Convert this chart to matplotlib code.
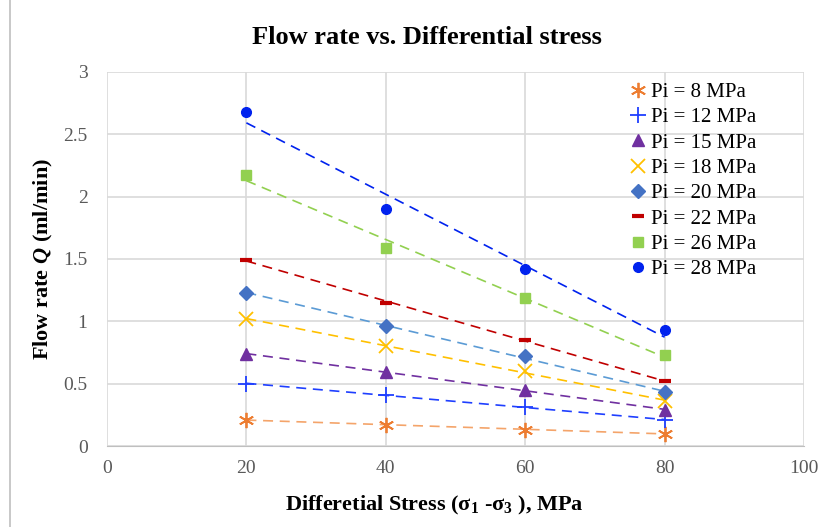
import numpy as np
import matplotlib
matplotlib.use('Agg')
import matplotlib.pyplot as plt
from matplotlib.patches import Rectangle

plt.rcParams['font.family'] = ['Liberation Serif', 'DejaVu Serif']
plt.rcParams['mathtext.fontset'] = 'custom'
plt.rcParams['mathtext.rm'] = 'Liberation Serif'
plt.rcParams['mathtext.it'] = 'Liberation Serif:italic'
plt.rcParams['mathtext.bf'] = 'Liberation Serif:bold'
plt.rcParams['mathtext.bfit'] = 'Liberation Serif:italic:bold'

# data
stress = [20, 40, 60, 80]
labels = ['Pi = 8 MPa', 'Pi = 12 MPa', 'Pi = 15 MPa', 'Pi = 18 MPa',
          'Pi = 20 MPa', 'Pi = 22 MPa', 'Pi = 26 MPa', 'Pi = 28 MPa']
q_8 = [0.21, 0.17, 0.13, 0.10]
q_12 = [0.50, 0.41, 0.31, 0.21]
q_15 = [0.74, 0.59, 0.45, 0.29]
q_18 = [1.02, 0.80, 0.60, 0.36]
q_20 = [1.23, 0.96, 0.72, 0.43]
q_22 = [1.49, 1.15, 0.85, 0.52]
q_26 = [2.17, 1.59, 1.19, 0.73]
q_28 = [2.68, 1.90, 1.42, 0.93]
series = [q_8, q_12, q_15, q_18, q_20, q_22, q_26, q_28]

# marker style, marker colour, trendline colour, size, edge width
styles = [
    ((6, 2, 0), '#ED7D31', '#F4A46A', 11, 1.3),
    ('+', '#1F3FFF', '#1F3FFF', 11, 1.3),
    ('^', '#7030A0', '#7030A0', 9, 1),
    ('x', '#FFC000', '#FFC000', 10, 1.3),
    ('D', '#4472C4', '#5B9BD5', 7, 1),
    ('_', '#C00000', '#C00000', 8, 3),
    ('s', '#92D050', '#92D050', 7, 1),
    ('o', '#0022EE', '#0022EE', 7, 1),
]

fig = plt.figure(figsize=(8.2, 5.27), dpi=100)
ax = fig.add_axes([0.1305, 0.1537, 0.8500, 0.7097])

xs = np.array(stress)
for q, lab, (m, mc, lc, ms, mew) in zip(series, labels, styles):
    k, b = np.polyfit(xs, q, 1)
    ax.plot([xs[0], xs[-1]], [k * xs[0] + b, k * xs[-1] + b], '--',
            color=lc, lw=1.2, dashes=(6, 4), zorder=2)
    ax.plot(stress, q, linestyle='none', marker=m, color=mc, ms=ms,
            mew=mew, label=lab, zorder=3)

ax.set_xlim(0, 100)
ax.set_ylim(0, 3)
ax.set_xticks([0, 20, 40, 60, 80, 100])
ax.set_yticks([0, 0.5, 1, 1.5, 2, 2.5, 3])
ax.set_yticklabels(['0', '0.5', '1', '1.5', '2', '2.5', '3'])
ax.grid(True, color='#D9D9D9', lw=1.2)
ax.set_axisbelow(True)
for s in ['top', 'right', 'left']:
    ax.spines[s].set_visible(False)
ax.spines['bottom'].set_color('#BFBFBF')
ax.tick_params(length=0, labelsize=14, colors='#595959')
ax.tick_params(axis='x', pad=10)
ax.tick_params(axis='y', pad=14)

ax.set_title('Flow rate vs. Differential stress', fontsize=19,
             fontweight='bold', x=0.459, y=1.0, pad=20)
ax.set_xlabel(r'Differetial Stress (σ$_\mathbf{1}$ -σ$_\mathbf{3}$ ), MPa',
              fontsize=16, fontweight='bold')
ax.xaxis.set_label_coords(0.469, -0.128)
ax.set_ylabel(r'Flow rate $\mathbfit{Q}$ (ml/min)', fontsize=16,
              fontweight='bold', labelpad=6)

ax.legend(loc='upper right', bbox_to_anchor=(0.947, 1.0), frameon=False,
          fontsize=15, handlelength=0.9, handletextpad=0.2,
          labelspacing=0.275, borderaxespad=0.1)

fig.patches.append(Rectangle((0.012, -0.01), 0.99, 1.02, transform=fig.transFigure,
                             fill=False, edgecolor='#BFBFBF', lw=1.2))

fig.savefig('out.png', dpi=100)
